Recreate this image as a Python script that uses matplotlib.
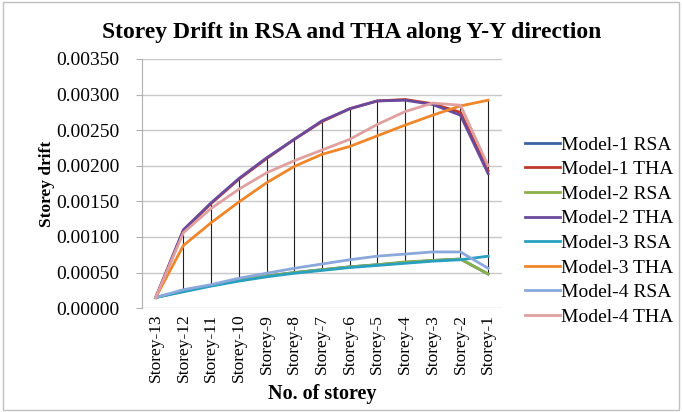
import matplotlib
matplotlib.use("Agg")
import matplotlib.pyplot as plt
import numpy as np
from matplotlib.patches import Rectangle

storeys = ["Storey-13", "Storey-12", "Storey-11", "Storey-10", "Storey-9", "Storey-8",
           "Storey-7", "Storey-6", "Storey-5", "Storey-4", "Storey-3", "Storey-2", "Storey-1"]

model1_rsa = [0.00015, 0.00024, 0.00032, 0.00039, 0.00045, 0.00050, 0.00054, 0.00058, 0.00061, 0.00064, 0.00067, 0.00069, 0.00048]
model1_tha = [0.00015, 0.00109, 0.00147, 0.00181, 0.00210, 0.00237, 0.00262, 0.00280, 0.00291, 0.00293, 0.00287, 0.00275, 0.00193]
model2_rsa = [0.00015, 0.00024, 0.00032, 0.00039, 0.00045, 0.00050, 0.00054, 0.00058, 0.00061, 0.00065, 0.00067, 0.00069, 0.00048]
model2_tha = [0.00015, 0.00110, 0.00148, 0.00182, 0.00211, 0.00237, 0.00263, 0.00280, 0.00291, 0.00292, 0.00286, 0.00271, 0.00189]
model3_rsa = [0.00015, 0.00023, 0.00031, 0.00038, 0.00044, 0.00049, 0.00053, 0.00057, 0.00060, 0.00063, 0.00066, 0.00068, 0.00073]
model3_tha = [0.00015, 0.00088, 0.00120, 0.00149, 0.00176, 0.00199, 0.00216, 0.00227, 0.00242, 0.00257, 0.00271, 0.00284, 0.00292]
model4_rsa = [0.00015, 0.00026, 0.00033, 0.00042, 0.00049, 0.00056, 0.00062, 0.00068, 0.00073, 0.00076, 0.00079, 0.00079, 0.00056]
model4_tha = [0.00015, 0.00106, 0.00140, 0.00167, 0.00190, 0.00207, 0.00222, 0.00237, 0.00258, 0.00276, 0.00288, 0.00285, 0.00200]

series_names = ["Model-1 RSA", "Model-1 THA", "Model-2 RSA", "Model-2 THA",
                "Model-3 RSA", "Model-3 THA", "Model-4 RSA", "Model-4 THA"]
series_vals = [model1_rsa, model1_tha, model2_rsa, model2_tha,
               model3_rsa, model3_tha, model4_rsa, model4_tha]
colors = ["#3a62a0", "#c0392b", "#8bb04a", "#6a4a9c", "#2aa0c0", "#f0862a", "#8aa8dc", "#e0a0a0"]
y_ticks = [0.0, 0.0005, 0.0010, 0.0015, 0.0020, 0.0025, 0.0030, 0.0035]

plt.rcParams['font.family'] = ['Liberation Serif', 'DejaVu Serif']

fig = plt.figure(figsize=(6.82, 4.12), dpi=100)
ax = fig.add_axes([0.208, 0.252, 0.528, 0.605])

x = np.arange(len(storeys))
data = np.array(series_vals)
ax.vlines(x, data.min(axis=0), data.max(axis=0), color="#222222", lw=0.8, zorder=2)

for name, vals, c in zip(series_names, series_vals, colors):
    ax.plot(x, vals, color=c, lw=2.0, label=name, zorder=3)

ax.set_xlim(-0.5, len(storeys) - 0.5)
ax.set_ylim(0, 0.0035)
ax.set_yticks(y_ticks)
ax.set_yticklabels([f"{v:.5f}" for v in y_ticks], fontsize=14)
ax.set_xticks(x)
ax.set_xticklabels(storeys, rotation=90, fontsize=12.5)
ax.grid(axis='y', color="#c8c8c8", lw=1)
ax.set_axisbelow(True)
for s in ["top", "right", "bottom"]:
    ax.spines[s].set_visible(False)
ax.spines["left"].set_color("#b0b0b0")
ax.tick_params(axis='y', length=4, color="#b0b0b0", pad=12)
ax.tick_params(axis='x', length=0, pad=4)

fig.text(0.515, 0.922, "Storey Drift in RSA and THA along Y-Y direction", fontsize=17,
         fontweight='bold', ha='center', va='center')
ax.set_ylabel("Storey drift", fontsize=12.5, fontweight='bold', labelpad=1)
ax.set_xlabel("No. of storey", fontsize=14.5, fontweight='bold', labelpad=1)

leg = ax.legend(loc='center left', bbox_to_anchor=(1.015, 0.31), frameon=False,
                fontsize=14, handlelength=1.8, handletextpad=0.05, labelspacing=0.36)

fig.patches.append(Rectangle((0.005, 0.005), 0.99, 0.99, transform=fig.transFigure,
                             fill=False, edgecolor="#c0c0c0", lw=1))

fig.savefig("out.png", dpi=100)
